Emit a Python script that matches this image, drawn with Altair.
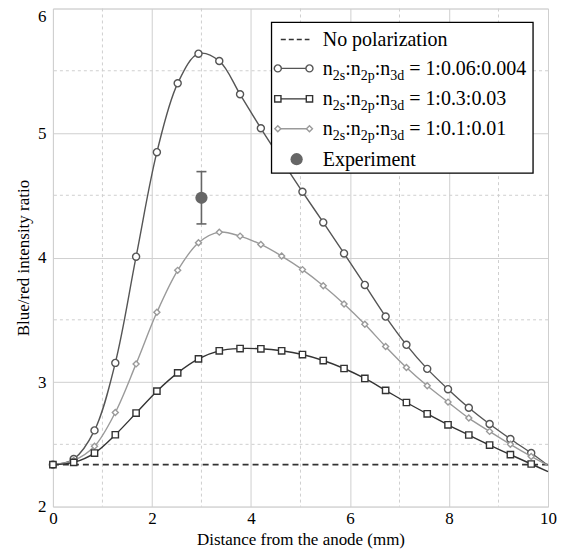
import altair as alt
import pandas as pd

# ---------------- data ----------------
x_pos = [0, 0.42, 0.84, 1.26, 1.68, 2.1, 2.52, 2.94, 3.36, 3.78, 4.2, 4.62,
         5.04, 5.46, 5.88, 6.3, 6.72, 7.14, 7.56, 7.98, 8.4, 8.82, 9.24, 9.66]
circ_y = [2.337, 2.382, 2.612, 3.154, 4.007, 4.846, 5.399, 5.637, 5.578, 5.311, 5.038, 4.78,
          4.528, 4.282, 4.033, 3.78, 3.526, 3.299, 3.106, 2.943, 2.794, 2.663, 2.543, 2.43]
sq_y = [2.337, 2.355, 2.43, 2.577, 2.751, 2.927, 3.074, 3.186, 3.251, 3.269, 3.267, 3.251,
        3.221, 3.173, 3.109, 3.029, 2.933, 2.836, 2.745, 2.657, 2.575, 2.494, 2.417, 2.342]
dia_y = [2.337, 2.37, 2.484, 2.756, 3.146, 3.56, 3.897, 4.119, 4.204, 4.172, 4.105, 4.012,
         3.903, 3.774, 3.627, 3.464, 3.285, 3.117, 2.97, 2.839, 2.711, 2.604, 2.5, 2.403]
x_end = 10
circ_end = 2.33
sq_end = 2.28
dia_end = 2.33
no_pol_y = 2.337
exp_x = [3.0]
exp_y = [4.48]
exp_err = [0.21]

x_ticks = [0, 2, 4, 6, 8, 10]
y_ticks = [2, 3, 4, 5, 6]
x_minor = [1, 3, 5, 7, 9]
y_minor = [2.5, 3.5, 4.5, 5.5]

legend_ratios = ["1:0.06:0.004", "1:0.3:0.03", "1:0.1:0.01"]

# ---------------- layout / style ----------------
PAD_TOP = 0
W, H = 496, 499
X_DOM = [0, 10]
Y_DOM = [2, 6]
FONT = "Liberation Serif"
C_CIRC, C_SQ, C_DIA, C_EXP, C_NOPOL = "#555555", "#333333", "#9a9a9a", "#666666", "#333333"
GRID = "#cfcfcf"

xs = alt.Scale(domain=X_DOM, nice=False, zero=False)
ys = alt.Scale(domain=Y_DOM, nice=False, zero=False)
xaxis = alt.Axis(title="Distance from the anode (mm)", values=x_ticks, grid=True,
                 gridColor=GRID, gridWidth=1, domain=False, ticks=False,
                 labelFont=FONT, labelFontSize=17, labelColor="black", labelPadding=4,
                 labelFlush=False, labelOverlap=False,
                 titleFont=FONT, titleFontSize=17, titleFontWeight="normal",
                 titleColor="black", titlePadding=5)
yaxis = alt.Axis(title="Blue/red intensity ratio", values=y_ticks, grid=True,
                 gridColor=GRID, gridWidth=1, domain=False, ticks=False,
                 labelFont=FONT, labelFontSize=17, labelColor="black", labelPadding=7,
                 labelFlush=False, labelOverlap=False,
                 labelOffset=alt.condition("datum.value == 6", alt.value(8), alt.value(0)),
                 titleFont=FONT, titleFontSize=17, titleFontWeight="normal",
                 titleColor="black", titlePadding=5)


def X(f):
    return alt.X(f, type="quantitative", scale=xs, axis=xaxis)


def Y(f):
    return alt.Y(f, type="quantitative", scale=ys, axis=yaxis)


def fx(px):
    return X_DOM[0] + px / W * (X_DOM[1] - X_DOM[0])


def fy(py):
    return Y_DOM[1] - py / H * (Y_DOM[1] - Y_DOM[0])


layers = []

# minor dashed grid
layers.append(alt.Chart(pd.DataFrame({"x": x_minor})).mark_rule(
    color=GRID, strokeWidth=1, strokeDash=[3, 3]).encode(x=X("x")))
layers.append(alt.Chart(pd.DataFrame({"y": y_minor})).mark_rule(
    color=GRID, strokeWidth=1, strokeDash=[3, 3]).encode(y=Y("y")))

# no polarization
layers.append(alt.Chart(pd.DataFrame({"x": [X_DOM[0], x_end], "y": [no_pol_y, no_pol_y]})).mark_line(
    color=C_NOPOL, strokeWidth=1.6, strokeDash=[6, 4]).encode(x=X("x"), y=Y("y")))

series = [
    (circ_y, circ_end, C_CIRC, "circle", 50),
    (dia_y, dia_end, C_DIA, "diamond", 36),
    (sq_y, sq_end, C_SQ, "square", 40),
]
for ys_vals, end_val, col, shape, sz in series:
    line_df = pd.DataFrame({"x": x_pos + [x_end], "y": ys_vals + [end_val]})
    pt_df = pd.DataFrame({"x": x_pos, "y": ys_vals})
    layers.append(alt.Chart(line_df).mark_line(
        color=col, strokeWidth=1.4, interpolate="catmull-rom").encode(x=X("x"), y=Y("y")))
    layers.append(alt.Chart(pt_df).mark_point(
        shape=shape, filled=True, fill="white", stroke=col, strokeWidth=1.4,
        size=sz, opacity=1).encode(x=X("x"), y=Y("y")))

# experiment with error bar
exp_df = pd.DataFrame({"x": exp_x, "y": exp_y, "err": exp_err})
exp_df["lo"] = exp_df["y"] - exp_df["err"]
exp_df["hi"] = exp_df["y"] + exp_df["err"]
cap_half = fx(5)  # 5 px half-width cap
layers.append(alt.Chart(exp_df).mark_rule(color=C_EXP, strokeWidth=1.6).encode(
    x=X("x"), y=Y("lo"), y2="hi"))
cap_df = pd.DataFrame({"x0": [exp_x[0] - cap_half] * 2, "x1": [exp_x[0] + cap_half] * 2,
                       "y": [exp_df["lo"][0], exp_df["hi"][0]]})
layers.append(alt.Chart(cap_df).mark_rule(color=C_EXP, strokeWidth=1.6).encode(
    x=X("x0"), x2="x1", y=Y("y")))
layers.append(alt.Chart(exp_df).mark_point(
    shape="circle", filled=True, color=C_EXP, size=150, opacity=1).encode(x=X("x"), y=Y("y")))

# ---------------- legend (custom, for subscripts) ----------------
OY = PAD_TOP + 8  # page y of plot top
LEG_BOX = (219, 22 - OY, 481, 173 - OY)
ROW_Y = [v - OY for v in (39, 68, 98.5, 128.5, 159)]
SAMPLE_X = (225.3, 257)
TEXT_X = 270.3
MAIN_FS, SUB_FS = 20, 14
BASE_OFF, SUB_OFF = 6.5, 5

CW = {'n': 500, '2': 500, 's': 389, ':': 278, 'p': 500, '3': 500, 'd': 500, ' ': 250,
      '=': 564, '1': 500, '0': 500, '.': 250, '4': 500, '6': 500}


def tw(t, fs):
    return sum(CW.get(c, 500) for c in t) * fs / 1000


box_df = pd.DataFrame({"x": [fx(LEG_BOX[0])], "x2": [fx(LEG_BOX[2])],
                       "y": [fy(LEG_BOX[1])], "y2": [fy(LEG_BOX[3])]})
layers.append(alt.Chart(box_df).mark_rect(fill="white", stroke="black", strokeWidth=1.3).encode(
    x=X("x"), x2="x2", y=Y("y"), y2="y2"))

# sample lines
layers.append(alt.Chart(pd.DataFrame({"x": [fx(SAMPLE_X[0] + 3)], "x2": [fx(SAMPLE_X[1])],
                                      "y": [fy(ROW_Y[0])]})).mark_rule(
    color=C_NOPOL, strokeWidth=1.6, strokeDash=[5, 3]).encode(x=X("x"), x2="x2", y=Y("y")))
leg_series = [(C_CIRC, "circle", 50), (C_SQ, "square", 40), (C_DIA, "diamond", 36)]
for i, (col, shape, sz) in enumerate(leg_series):
    ry = ROW_Y[i + 1]
    layers.append(alt.Chart(pd.DataFrame({"x": [fx(SAMPLE_X[0])], "x2": [fx(SAMPLE_X[1])],
                                          "y": [fy(ry)]})).mark_rule(
        color=col, strokeWidth=1.4).encode(x=X("x"), x2="x2", y=Y("y")))
    layers.append(alt.Chart(pd.DataFrame({"x": [fx(SAMPLE_X[0]), fx(SAMPLE_X[1])],
                                          "y": [fy(ry), fy(ry)]})).mark_point(
        shape=shape, filled=True, fill="white", stroke=col, strokeWidth=1.4, size=sz,
        opacity=1).encode(x=X("x"), y=Y("y")))
layers.append(alt.Chart(pd.DataFrame({"x": [fx((SAMPLE_X[0] + SAMPLE_X[1]) / 2 + 3)],
                                      "y": [fy(ROW_Y[4])]})).mark_point(
    shape="circle", filled=True, color=C_EXP, size=150, opacity=1).encode(x=X("x"), y=Y("y")))

main_rows, sub_rows = [], []
main_rows.append({"x": fx(TEXT_X), "y": fy(ROW_Y[0] + BASE_OFF), "t": "No polarization"})
main_rows.append({"x": fx(TEXT_X), "y": fy(ROW_Y[4] + BASE_OFF), "t": "Experiment"})
for i, ratio in enumerate(legend_ratios):
    base = ROW_Y[i + 1] + BASE_OFF
    cx = TEXT_X
    segs = [("n", False), ("2s", True), (":n", False), ("2p", True), (":n", False),
            ("3d", True), ("= " + ratio, False)]
    for t, is_sub in segs:
        if t.startswith("="):
            cx += tw(" ", MAIN_FS)  # SVG drops leading spaces, so step over it here
        if is_sub:
            sub_rows.append({"x": fx(cx), "y": fy(base + SUB_OFF), "t": t})
            cx += tw(t, SUB_FS)
        else:
            main_rows.append({"x": fx(cx), "y": fy(base), "t": t})
            cx += tw(t, MAIN_FS)

layers.append(alt.Chart(pd.DataFrame(main_rows)).mark_text(
    align="left", baseline="alphabetic", font=FONT, fontSize=MAIN_FS, color="black").encode(
    x=X("x"), y=Y("y"), text="t:N"))
layers.append(alt.Chart(pd.DataFrame(sub_rows)).mark_text(
    align="left", baseline="alphabetic", font=FONT, fontSize=SUB_FS, color="black").encode(
    x=X("x"), y=Y("y"), text="t:N"))

chart = alt.layer(*layers).properties(
    width=W, height=H,
    autosize=alt.AutoSizeParams(type="none"),
    padding={"left": 45, "top": PAD_TOP, "right": 15, "bottom": 45},
).configure_view(stroke="black", strokeWidth=1.3).configure(background="white", font=FONT)

chart.save("out.html", embed_options={"renderer": "svg", "actions": False})
